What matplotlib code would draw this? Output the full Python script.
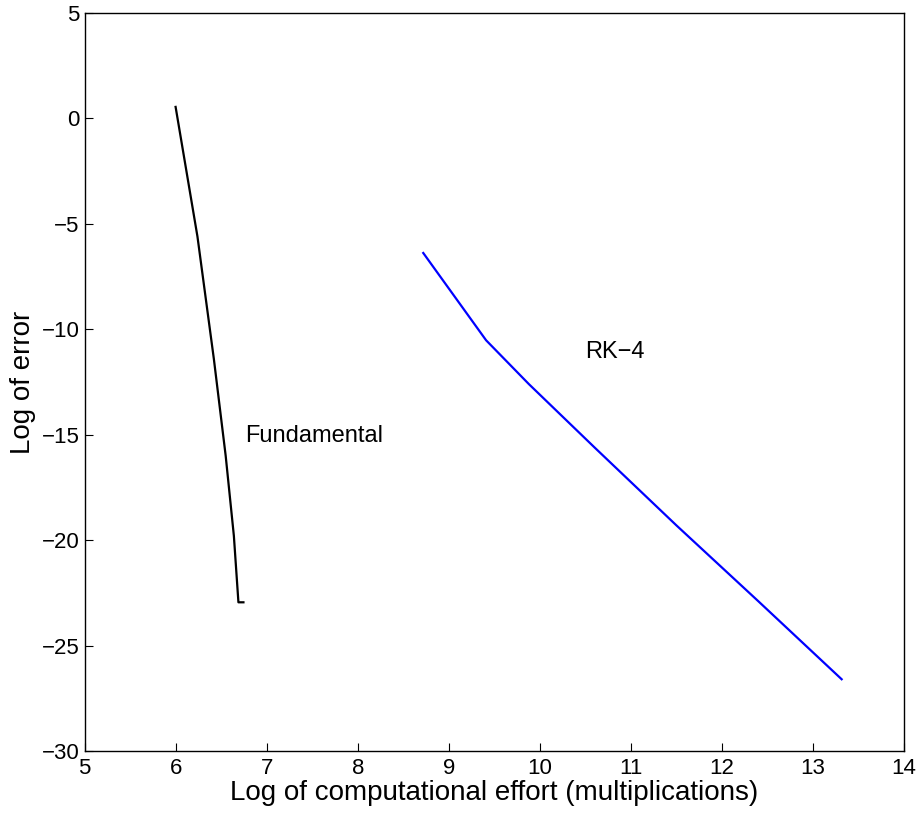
import matplotlib
matplotlib.use("Agg")
import matplotlib.pyplot as plt

plt.rcParams['font.family'] = ['Liberation Sans', 'DejaVu Sans']

fund_x = [6.00, 6.24, 6.42, 6.55, 6.64, 6.69, 6.745]
fund_y = [0.55, -5.6, -11.4, -16.0, -19.8, -22.95, -22.95]

rk_x = [8.72, 9.41, 9.88, 10.60, 11.50, 12.40, 13.315]
rk_y = [-6.38, -10.52, -12.60, -15.60, -19.30, -22.90, -26.60]

xticks = [5, 6, 7, 8, 9, 10, 11, 12, 13, 14]
yticks = [5, 0, -5, -10, -15, -20, -25, -30]

fig = plt.figure(figsize=(9.19, 8.18), dpi=100)
ax = fig.add_axes([0.092, 0.082, 0.8917, 0.902])

ax.plot(fund_x, fund_y, color='black', lw=1.6)
ax.plot(rk_x, rk_y, color='#0000ff', lw=1.6)

ax.text(6.76, -15.07, 'Fundamental', fontsize=17, ha='left', va='center')
ax.text(10.5, -11.1, 'RK\u22124', fontsize=17, ha='left', va='center')

ax.set_xlim(5, 14)
ax.set_ylim(-30, 5)
ax.set_xticks(xticks)
ax.set_yticks(yticks)
ax.set_xticklabels([str(v) for v in xticks])
ax.set_yticklabels([str(v).replace('-', '\u2212') for v in yticks])
ax.tick_params(direction='in', length=6, labelsize=16, width=0.8)
ax.tick_params(axis='x', pad=5)
for s in ax.spines.values():
    s.set_linewidth(1.0)
ax.set_xlabel('Log of computational effort (multiplications)', fontsize=20, labelpad=1)
ax.set_ylabel('Log of error', fontsize=20, labelpad=4)

fig.savefig('out.png', dpi=100)
